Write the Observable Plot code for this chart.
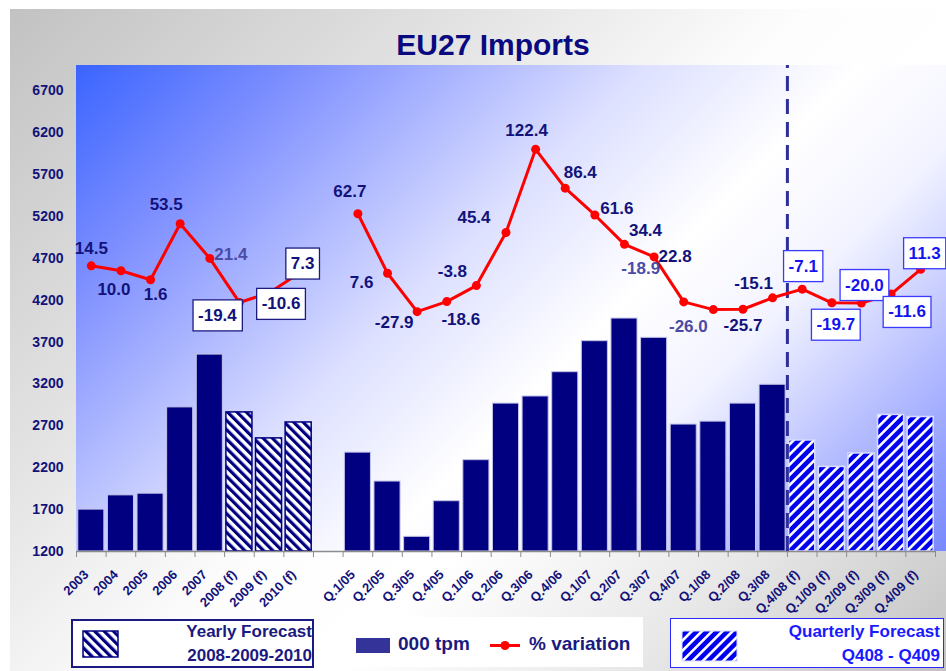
<!DOCTYPE html>
<html><head><meta charset="utf-8">
<script src="https://cdn.jsdelivr.net/npm/d3@7"></script>
<script src="https://cdn.jsdelivr.net/npm/@observablehq/plot@0.6"></script>
<style>
body{margin:0;background:#fff;font-family:"Liberation Sans",Arial,Helvetica,sans-serif;}
#wrap{position:relative;width:946px;height:671px;overflow:hidden;background:#fff}
#panel{position:absolute;left:10px;top:9px;width:936px;height:662px;
 background:linear-gradient(135deg,#c2c2c2 0%,#e4e4e4 30%,#fdfdfd 50%,#ffffff 62%,#e8e8e8 80%,#c2c2c2 100%)}
#plotbg{position:absolute;left:76px;top:65px;width:870px;height:486px;
 background:linear-gradient(135deg,#3a64ff 0%,#7f90ff 17%,#dde0ff 42%,#ffffff 58%,#f2f3ff 70%,#b4bcff 85%,#7888ff 100%)}
#title{position:absolute;left:293px;top:30px;width:400px;text-align:center;font-size:30px;line-height:30px;font-weight:bold;color:#0a0a80}
.layer{position:absolute;left:0;top:0}
.lbox{position:absolute;background:#fff;box-sizing:border-box}
.ltxt{position:absolute;font-weight:bold;white-space:nowrap}
</style></head><body>
<svg width="0" height="0" style="position:absolute">
<defs>
<pattern id="hatchY" width="6.6" height="6.6" patternUnits="userSpaceOnUse" patternTransform="rotate(-45)">
<rect width="6.6" height="6.6" fill="#ffffff"/><rect width="3.2" height="6.6" fill="#000080"/>
</pattern>
<pattern id="hatchQ" width="7.2" height="7.2" patternUnits="userSpaceOnUse" patternTransform="rotate(45)">
<rect width="7.2" height="7.2" fill="#0000f0"/><rect width="2.6" height="7.2" fill="#ffffff"/>
</pattern>
</defs></svg>
<div id="wrap">
 <div id="panel"></div>
 <div id="plotbg"></div>
 <div id="title">EU27 Imports</div>
 <div id="bars" class="layer"></div>
 <div id="line" class="layer"></div>
 <div class="lbox" style="left:71px;top:619px;width:243px;height:49px;border:2px solid #1a1a80"></div>
 <svg style="position:absolute;left:82px;top:630px" width="37" height="28"><rect x="1" y="1" width="35" height="26" fill="url(#hatchY)" stroke="#000080" stroke-width="1.5"/></svg>
 <div class="ltxt" style="right:634px;top:620px;font-size:17px;line-height:24px;color:#1a1a80">Yearly Forecast</div>
 <div class="ltxt" style="right:634px;top:644px;font-size:17px;line-height:24px;color:#1a1a80">2008-2009-2010</div>
 <div class="lbox" style="left:343px;top:617px;width:300px;height:50px"></div>
 <svg style="position:absolute;left:355px;top:636px" width="175" height="20">
  <rect x="1" y="2" width="34" height="15" fill="#333399"/>
  <line x1="135" x2="165" y1="9.5" y2="9.5" stroke="#ff0000" stroke-width="3"/>
  <circle cx="150" cy="9.5" r="4.5" fill="#ff0000"/>
 </svg>
 <div class="ltxt" style="left:398px;top:632px;font-size:19px;line-height:24px;color:#1a1a80">000 tpm</div>
 <div class="ltxt" style="left:529px;top:632px;font-size:19px;line-height:24px;color:#1a1a80">% variation</div>
 <div class="lbox" style="left:670px;top:618px;width:274px;height:50px;border:1.5px solid #2a2aff"></div>
 <svg style="position:absolute;left:681px;top:630px" width="57" height="32"><rect x="1" y="1" width="55" height="30" fill="url(#hatchQ)" stroke="#d8dcff" stroke-width="1"/></svg>
 <div class="ltxt" style="right:6px;top:620px;font-size:17px;line-height:24px;color:#1a1aff">Quarterly Forecast</div>
 <div class="ltxt" style="right:6px;top:644px;font-size:17px;line-height:24px;color:#1a1aff">Q408 - Q409</div>
</div>
<script>
// ---------- data ----------
const years = ["2003","2004","2005","2006","2007","2008 (f)","2009 (f)","2010 (f)"];
const yearValues = [1700,1870,1890,2920,3550,2860,2550,2740];
const yearPct = [14.5,10.0,1.6,53.5,21.4,-19.4,-10.6,7.3];
const yearForecast = [false,false,false,false,false,true,true,true];

const quarters = ["Q.1/05","Q.2/05","Q.3/05","Q.4/05","Q.1/06","Q.2/06","Q.3/06","Q.4/06",
  "Q.1/07","Q.2/07","Q.3/07","Q.4/07","Q.1/08","Q.2/08","Q.3/08",
  "Q.4/08 (f)","Q.1/09 (f)","Q.2/09 (f)","Q.3/09 (f)","Q.4/09 (f)"];
const quarterValues = [2380,2035,1375,1800,2290,2965,3050,3340,3710,3980,3750,2715,2750,2965,3190,2525,2210,2370,2830,2805];
const quarterPct = [62.7,7.6,-27.9,-18.6,-3.8,45.4,122.4,86.4,61.6,34.4,22.8,-18.9,-26.0,-25.7,-15.1,-7.1,-19.7,-20.0,-11.6,11.3];
const quarterForecast = quarters.map(q => q.includes("(f)"));

const yTicks = [1200,1700,2200,2700,3200,3700,4200,4700,5200,5700,6200,6700];
const gapCategory = " ";

// ---------- label styling (offsets in px, style kind) ----------
const yearLabelOffsets = [[0,-17],[-7,19],[5,15],[-14,-19],[21,-4],[-22,13],[12,11],[4,-10]];
const yearLabelKind = ["n","n","n","n","l","by","by","by"];
const quarterLabelOffsets = [[-8,-22],[-26,9],[-23,11],[14,18],[-24,-14],[-32,-15],[-9,-19],[15,-16],[22,-6],[21,-14],[21,0],
  [-43,-33],[-25,17],[0,16],[-19,-14],[1,-23],[4,22],[3,-18],[16,18],[4,-16]];
const quarterLabelKind = ["n","n","n","n","n","n","n","n","n","n","n","l","l","n","n","bq","bq","bq","bq","bq"];

// ---------- build tables ----------
const cats = [...years, gapCategory, ...quarters];
const bars = [
  ...years.map((c,i) => ({cat:c, value:yearValues[i], kind: yearForecast[i] ? "yf" : "a"})),
  ...quarters.map((c,i) => ({cat:c, value:quarterValues[i], kind: quarterForecast[i] ? "qf" : "a"}))
];
const pts = [
  ...years.map((c,i) => ({cat:c, pct:yearPct[i], group:"y", off:yearLabelOffsets[i], kind:yearLabelKind[i]})),
  ...quarters.map((c,i) => ({cat:c, pct:quarterPct[i], group:"q", off:quarterLabelOffsets[i], kind:quarterLabelKind[i]}))
];

const W = 946, H = 620, mT = 65, mL = 76, mR = 11, mB = H - 551;
const step = (W - mL - mR) / cats.length;
const font = "Liberation Sans, Arial, Helvetica, sans-serif";
const navy = "#12127a";
const xOpts = {domain: cats, paddingInner: 0.12, paddingOuter: 0.06, round: false};
const yDomain = [1200, 7000];
const tickLen = 6 * (yDomain[1]-yDomain[0]) / (H - mT - mB);

const barPlot = Plot.plot({
  width: W, height: H, marginTop: mT, marginLeft: mL, marginRight: mR, marginBottom: mB,
  style: {background: "transparent", fontFamily: font, overflow: "visible"},
  x: {...xOpts, axis: null},
  y: {domain: yDomain, axis: null},
  marks: [
    Plot.barY(bars.filter(d => d.kind === "a"), {x:"cat", y1:1200, y2:"value", fill:"#000080", stroke:"#c4c4e8", strokeWidth:1}),
    Plot.barY(bars.filter(d => d.kind === "yf"), {x:"cat", y1:1200, y2:"value", fill:"url(#hatchY)", stroke:"#000080", strokeWidth:1.5}),
    Plot.barY(bars.filter(d => d.kind === "qf"), {x:"cat", y1:1200, y2:"value", fill:"url(#hatchQ)", stroke:"#d8dcff", strokeWidth:1.5}),
    Plot.ruleY([1200], {stroke:"#8c8c8c", strokeWidth:1.5}),
    Plot.ruleX(cats, {x: d => d, dx: -step/2, y1: 1200, y2: 1200 - tickLen, stroke:"#8c8c8c"}),
    Plot.ruleX([cats[cats.length-1]], {x: d => d, dx: step/2, y1: 1200, y2: 1200 - tickLen, stroke:"#8c8c8c"}),
    Plot.ruleX(["Q.4/08 (f)"], {x: d => d, dx: -step/2, y1: yDomain[0], y2: yDomain[1], stroke:"#2e2e99", strokeWidth:3, strokeDasharray:"15,8"}),
    Plot.axisY(yTicks, {tickSize:0, tickPadding:13, fontSize:14, fontWeight:"bold", fill:navy, tickFormat: d => String(d), label:null}),
    Plot.axisX({tickRotate:-45, tickSize:0, tickPadding:13, dx:-5, dy:8, fontSize:13, fontWeight:"bold", fill:navy, tickFormat: d => d.trim(), label:null})
  ]
});
document.getElementById("bars").append(barPlot);

const labelMarks = pts.map(d => Plot.text([d], {
  x:"cat", y:"pct", text: p => p.pct.toFixed(1), dx: d.off[0], dy: d.off[1],
  fontSize: 17, fontWeight: "bold",
  fill: d.kind === "l" ? "#4b4ba6" : d.kind === "bq" ? "#1414ee" : navy
}));

const linePlot = Plot.plot({
  width: W, height: H, marginTop: mT, marginLeft: mL, marginRight: mR, marginBottom: mB,
  style: {background: "transparent", fontFamily: font, overflow: "visible"},
  x: {...xOpts, axis: null},
  y: {domain: [-250, 200], axis: null},
  marks: [
    Plot.line(pts, {x:"cat", y:"pct", z:"group", stroke:"#ff0000", strokeWidth:3}),
    Plot.dot(pts, {x:"cat", y:"pct", r:4.5, fill:"#ff0000"}),
    ...labelMarks
  ]
});
document.getElementById("line").append(linePlot);

// boxes behind boxed labels (sized from the rendered text)
const boxKinds = new Set(["by","bq"]);
const kindOf = new Map(pts.map(d => [d.pct.toFixed(1), d.kind]));
d3.select(linePlot).selectAll("text").each(function(){
  const t = this.textContent;
  const kind = kindOf.get(t);
  if (!boxKinds.has(kind)) return;
  const b = this.getBBox();
  const padX = 5, padY = 7;
  const rect = d3.select(this.parentNode).insert("rect", () => this)
    .attr("x", b.x - padX).attr("y", b.y - padY + 1)
    .attr("width", b.width + 2*padX).attr("height", b.height + 2*padY - 2)
    .attr("fill", "#ffffff")
    .attr("stroke", kind === "by" ? "#1c1c80" : "#3a3aff")
    .attr("stroke-width", 1.3);
  const tr = this.getAttribute("transform");
  if (tr) rect.attr("transform", tr);
});
</script>
</body></html>
